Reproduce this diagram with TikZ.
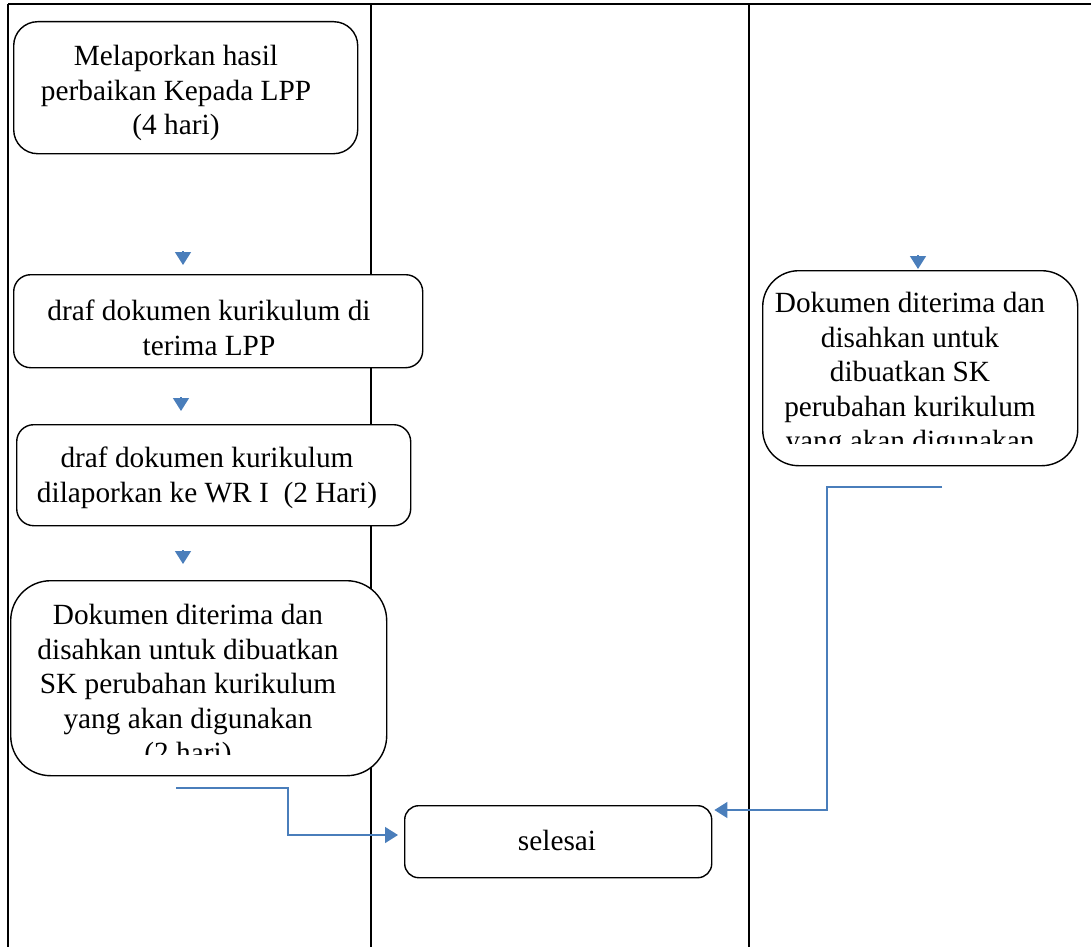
\documentclass[tikz,border=0pt]{standalone}
\usepackage{fontspec}
\setmainfont{Liberation Serif}
\usetikzlibrary{arrows.meta}
\definecolor{wordblue}{RGB}{74,126,187}
\tikzset{
  lane/.style={line width=1.6pt, black},
  box/.style={draw=black, line width=1.4pt, fill=white, anchor=north west, inner sep=0pt},
  txt/.style={align=center, inner sep=0pt, font=\fontsize{29.3}{34.6}\selectfont},
  flow/.style={draw=wordblue, line width=1.5pt, -{Triangle[width=16pt,length=13pt]}},
  tip/.style={draw=wordblue, line width=1.5pt, -{Triangle[width=16pt,length=13pt]}}
}
\begin{document}
\begin{tikzpicture}[x=1pt,y=-1pt]
\useasboundingbox (0,0) rectangle (1091,947);
% lanes
\coordinate (tl) at (8,4);
\coordinate (tr) at (1091,4);
\coordinate (l1t) at (371,4);
\coordinate (l1b) at (371,947);
\coordinate (l2t) at (749,4);
\coordinate (l2b) at (749,947);
\coordinate (l0b) at (8,947);
\draw[lane] (tl) -- (tr);
\draw[lane] (tl) -- (l0b);
\draw[lane] (l1t) -- (l1b);
\draw[lane] (l2t) -- (l2b);

% box 1
\node[box, rounded corners=24pt, minimum width=344pt, minimum height=132pt] (b1) at (13,21) {};
\node[txt] (t1) at (176,93) {Melaporkan hasil\\perbaikan Kepada LPP\\(4 hari)};

% box 2
\node[box, rounded corners=17pt, minimum width=409pt, minimum height=93pt] (b2) at (13,274) {};
\node[txt] (t2) at (209,328) {draf dokumen kurikulum di\\terima LPP};

% box 3
\node[box, rounded corners=17pt, minimum width=394pt, minimum height=101pt] (b3) at (16,424) {};
\node[txt] (t3) at (207,478) {draf dokumen kurikulum\\dilaporkan ke WR I\ \ (2 Hari)};

% box 4
\node[box, rounded corners=40pt, minimum width=376pt, minimum height=195pt] (b4) at (10,580) {};
\begin{scope}
\clip (10,580) rectangle (386,754);
\node[txt, anchor=north] (t4) at (188,604) {Dokumen diterima dan\\disahkan untuk dibuatkan\\SK perubahan kurikulum\\yang akan digunakan\\(2 hari)};
\end{scope}

% box 5
\node[box, rounded corners=36pt, minimum width=315pt, minimum height=195pt] (b5) at (762,270) {};
\begin{scope}
\clip (762,270) rectangle (1077,443);
\node[txt, anchor=north] (t5) at (910,292) {Dokumen diterima dan\\disahkan untuk\\dibuatkan SK\\perubahan kurikulum\\yang akan digunakan};
\end{scope}

% selesai
\node[box, rounded corners=14pt, minimum width=307pt, minimum height=72pt] (b6) at (404,805) {};
\node[txt] (t6) at (557,840) {selesai};

% short arrows
\coordinate (a1s) at (183,251); \coordinate (a1e) at (183,265);
\coordinate (a2s) at (181,397); \coordinate (a2e) at (181,411);
\coordinate (a3s) at (183,550); \coordinate (a3e) at (183,564);
\coordinate (a4s) at (918,255); \coordinate (a4e) at (918,269);
\draw[tip] (a1s) -- (a1e);
\draw[tip] (a2s) -- (a2e);
\draw[tip] (a3s) -- (a3e);
\draw[tip] (a4s) -- (a4e);

% connectors to selesai
\coordinate (c1) at (176,788);
\coordinate (c1e) at (b6.west |- 0,835);
\draw[flow] (c1) -- (288,788) -- (288,835) -- ([xshift=-6pt]c1e);
\coordinate (c2) at (942,487);
\draw[flow] (c2) -- (827,487) -- (827,810) -- ([xshift=2pt]b6.east |- 0,810);
\end{tikzpicture}
\end{document}
